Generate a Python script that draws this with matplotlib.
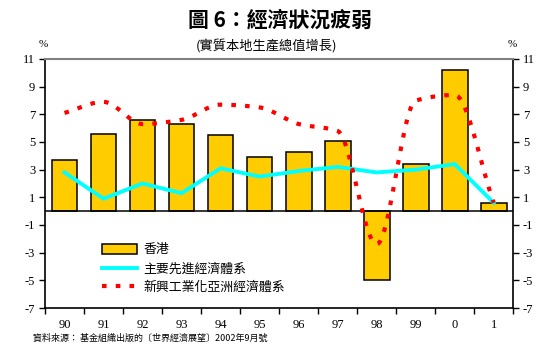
import matplotlib
matplotlib.use("Agg")
import matplotlib.pyplot as plt
import numpy as np
from matplotlib.patches import Patch
from matplotlib.lines import Line2D

CJK = ["Noto Sans CJK TC", "DejaVu Sans"]
NUM = ["Liberation Serif", "DejaVu Serif"]

years = ["90", "91", "92", "93", "94", "95", "96", "97", "98", "99", "0", "1"]
hong_kong = [3.7, 5.6, 6.6, 6.3, 5.5, 3.9, 4.3, 5.1, -5.0, 3.4, 10.2, 0.6]
advanced = [2.8, 0.9, 2.0, 1.3, 3.1, 2.5, 2.9, 3.2, 2.8, 3.0, 3.4, 0.6]
asian_nies = [7.1, 7.9, 6.3, 6.6, 7.7, 7.5, 6.3, 5.8, -2.4, 8.0, 8.4, 0.6]
yticks = [-7, -5, -3, -1, 1, 3, 5, 7, 9, 11]


def smooth(x, y, n=24):
    # monotone cubic (pchip-like) curve through the points, no overshoot
    x = np.asarray(x, float)
    y = np.asarray(y, float)
    h = np.diff(x)
    d = np.diff(y) / h
    m = np.zeros_like(y)
    for i in range(1, len(y) - 1):
        if d[i - 1] * d[i] > 0:
            m[i] = 2 / (1 / d[i - 1] + 1 / d[i])
    m[0] = d[0]
    m[-1] = d[-1]
    xs, ys = [], []
    t = np.linspace(0, 1, n)
    for i in range(len(x) - 1):
        h00 = 2 * t ** 3 - 3 * t ** 2 + 1
        h10 = t ** 3 - 2 * t ** 2 + t
        h01 = -2 * t ** 3 + 3 * t ** 2
        h11 = t ** 3 - t ** 2
        xs.extend(x[i] + t * h[i])
        ys.extend(h00 * y[i] + h10 * h[i] * m[i] + h01 * y[i + 1] + h11 * h[i] * m[i + 1])
    return np.array(xs), np.array(ys)


fig = plt.figure(figsize=(5.48, 3.61), dpi=100)
ax = fig.add_axes([0.0821, 0.1468, 0.8545, 0.6898])

x = np.arange(len(years))
ax.bar(x, hong_kong, width=0.66, color="#FFCC00", edgecolor="black", linewidth=1.1, zorder=2)
ax.axhline(0, color="black", linewidth=1.1, zorder=3)
ax.plot(x, advanced, color="#00FFFF", linewidth=2.8, zorder=4)
sx, sy = smooth(x, asian_nies)
ax.plot(sx, sy, color="#FF0000", linewidth=3, linestyle=(0, (1.1, 2.2)), zorder=5)

ax.set_xlim(-0.5, len(years) - 0.5)
ax.set_ylim(-7, 11)
ax.set_yticks(yticks)
ax.set_yticklabels([str(v) for v in yticks], family=NUM, fontsize=9)
ax.tick_params(axis="y", which="both", right=True, labelright=True, direction="out",
               length=4, width=1, pad=3)
ax.set_xticks(np.arange(-0.5, len(years), 1.0), minor=False)
ax.set_xticklabels([])
ax.set_xticks(x, minor=True)
ax.set_xticklabels(years, minor=True, family=NUM, fontsize=9)
ax.tick_params(axis="x", which="major", direction="out", length=4, width=1)
ax.tick_params(axis="x", which="minor", length=0, pad=8)

for s in ["left", "right", "bottom"]:
    ax.spines[s].set_color("black")
    ax.spines[s].set_linewidth(1.2)
ax.spines["top"].set_color("#808080")
ax.spines["top"].set_linewidth(1.5)

handles = [
    Patch(facecolor="#FFCC00", edgecolor="black", linewidth=1.1),
    Line2D([], [], color="#00FFFF", linewidth=2.8),
    Line2D([], [], color="#FF0000", linewidth=3, linestyle=(0, (1.1, 2.2))),
]
labels = ["香港", "主要先進經濟體系", "新興工業化亞洲經濟體系"]
ax.legend(handles, labels, loc="upper left", bbox_to_anchor=(0.11, 0.28), frameon=False,
          prop={"family": CJK, "size": 9.3}, handlelength=2.7, handleheight=0.8,
          labelspacing=0.45, handletextpad=0.5, borderaxespad=0)

fig.text(0.511, 0.945, "圖 6：經濟狀況疲弱", family=CJK, fontsize=15, fontweight="bold",
         ha="center", va="center")
fig.text(0.487, 0.875, "(實質本地生產總值增長)", family=CJK, fontsize=9.5, ha="center", va="center")
fig.text(0.079, 0.877, "%", family=NUM, fontsize=8, ha="center", va="center")
fig.text(0.934, 0.877, "%", family=NUM, fontsize=8, ha="center", va="center")
fig.text(0.06, 0.064, "資料來源： 基金組織出版的〔世界經濟展望〕2002年9月號", family=CJK,
         fontsize=6.5, ha="left", va="center")

fig.savefig("out.png", dpi=100)
